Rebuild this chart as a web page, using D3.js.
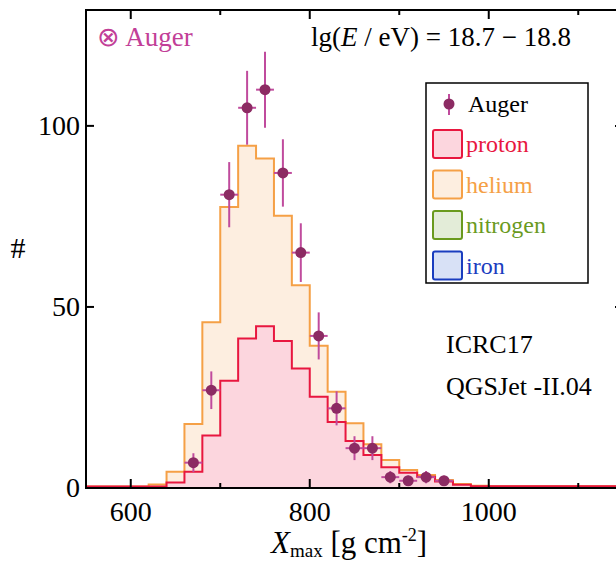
<!DOCTYPE html>
<html>
<head>
<meta charset="utf-8">
<script src="https://cdn.jsdelivr.net/npm/d3@7"></script>
<style>
    body { margin: 0; background: #fff; }
    text { font-family: "Liberation Serif", "Times New Roman", serif; }
</style>
</head>
<body>
<div id="chart"></div>
<script>
// Histogram bins (lower edges, g/cm^2), 20 wide
const binLow = [540, 560, 580, 600, 620, 640, 660, 680, 700, 720, 740, 760, 780, 800, 820,
    840, 860, 880, 900, 920, 940, 960, 980, 1000, 1020, 1040, 1060, 1080, 1100, 1120, 1140];
const binWidth = 20;

// Fitted composition (counts per bin)
const proton = [0.4, 0.4, 0.4, 0.4, 0.4, 1.5, 4.5, 14.5, 29.6, 41.3, 44.7, 40.6, 33, 25.2, 18.2,
    13, 9.1, 5.7, 4.2, 3.1, 1.8, 0.9, 0.5, 0.5, 0.5, 0.5, 0.5, 0.5, 0.5, 0.5, 0.5];
const helium = [0, 0, 0, 0, 0.6, 3, 13.2, 31.3, 48, 53.2, 46.3, 34.6, 23, 14.1, 8.4,
    4.9, 3, 2, 0.8, 0.5, 0.4, 0.2, 0.1, 0, 0, 0, 0, 0, 0, 0, 0];
const nitrogen = binLow.map(() => 0);
const iron = binLow.map(() => 0);

// Auger data points
const augerX = [670, 690, 710, 730, 750, 770, 790, 810, 830, 850, 870, 890, 910, 930, 950];
const augerCounts = [7, 27, 81, 105, 110, 87, 65, 42, 22, 11, 11, 3, 2, 3, 2];
const augerErr = [2.6, 5.2, 9, 10.2, 10.5, 9.3, 8.1, 6.5, 4.7, 3.3, 3.3, 1.7, 1.4, 1.7, 1.4];

const xTicks = [600, 800, 1000];
const xMinorTicks = [700, 900, 1100];
const yTicks = [0, 50, 100];

const components = [
    { name: "proton", values: proton, stroke: "#e8173f", fill: "#fcd6de" },
    { name: "helium", values: helium, stroke: "#f5a046", fill: "#fdeee0" },
    { name: "nitrogen", values: nitrogen, stroke: "#6a9a1e", fill: "#e3ecd8" },
    { name: "iron", values: iron, stroke: "#1a3dbf", fill: "#d8e1f6" }
];

const margin = { top: 10, left: 86 };
const width = 537;
const height = 478;

const svg = d3.select("#chart").append("svg")
    .attr("width", 616)
    .attr("height", 561);

const g = svg.append("g")
    .attr("transform", `translate(${margin.left},${margin.top})`);

const x = d3.scaleLinear().domain([550, 1150]).range([0, width]);
const y = d3.scaleLinear().domain([0, 132]).range([height, 0]);

g.append("clipPath").attr("id", "clip")
    .append("rect").attr("width", width).attr("height", height);

// Stack the components, draw from the outermost total down to proton
const table = binLow.map((lo, i) => {
    const row = { lo: lo };
    components.forEach(c => row[c.name] = c.values[i]);
    return row;
});
const stacked = d3.stack().keys(components.map(c => c.name))(table);

const line = d3.line().x(d => x(d[0])).y(d => y(d[1]));
const area = d3.area().x(d => x(d[0])).y0(y(0)).y1(d => y(d[1]));

const hist = g.append("g").attr("clip-path", "url(#clip)");

stacked.slice().reverse().forEach(layer => {
    const comp = components.find(c => c.name === layer.key);
    if (d3.sum(comp.values) === 0) return;
    const pts = [];
    layer.forEach(d => {
        pts.push([d.data.lo, d[1]]);
        pts.push([d.data.lo + binWidth, d[1]]);
    });
    hist.append("path")
        .attr("d", area(pts))
        .attr("fill", comp.fill);
    hist.append("path")
        .attr("d", line(pts))
        .attr("fill", "none")
        .attr("stroke", comp.stroke)
        .attr("stroke-width", 2);
});

// Auger points with error bars
const auger = g.append("g");
augerX.forEach((xv, i) => {
    auger.append("line")
        .attr("x1", x(xv)).attr("x2", x(xv))
        .attr("y1", y(augerCounts[i] - augerErr[i]))
        .attr("y2", y(augerCounts[i] + augerErr[i]))
        .attr("stroke", "#c04b9d").attr("stroke-width", 2);
    auger.append("line")
        .attr("x1", x(xv - binWidth / 2)).attr("x2", x(xv + binWidth / 2))
        .attr("y1", y(augerCounts[i])).attr("y2", y(augerCounts[i]))
        .attr("stroke", "#c04b9d").attr("stroke-width", 2);
    auger.append("circle")
        .attr("cx", x(xv)).attr("cy", y(augerCounts[i]))
        .attr("r", 5.5).attr("fill", "#8c2b63");
});

// Axes and frame
const axes = g.append("g").attr("stroke", "#000");
axes.append("rect")
    .attr("width", width).attr("height", height)
    .attr("fill", "none").attr("stroke-width", 2);

xTicks.forEach(t => {
    axes.append("line").attr("x1", x(t)).attr("x2", x(t)).attr("y1", height).attr("y2", height - 9).attr("stroke-width", 2);
    axes.append("line").attr("x1", x(t)).attr("x2", x(t)).attr("y1", 0).attr("y2", 9).attr("stroke-width", 2);
});
xMinorTicks.forEach(t => {
    axes.append("line").attr("x1", x(t)).attr("x2", x(t)).attr("y1", height).attr("y2", height - 5).attr("stroke-width", 2);
    axes.append("line").attr("x1", x(t)).attr("x2", x(t)).attr("y1", 0).attr("y2", 5).attr("stroke-width", 2);
});
yTicks.forEach(t => {
    axes.append("line").attr("x1", 0).attr("x2", 8).attr("y1", y(t)).attr("y2", y(t)).attr("stroke-width", 2);
    axes.append("line").attr("x1", width).attr("x2", width - 8).attr("y1", y(t)).attr("y2", y(t)).attr("stroke-width", 2);
});

g.selectAll(".xlab").data(xTicks).enter().append("text")
    .attr("x", d => x(d)).attr("y", height + 33)
    .attr("text-anchor", "middle").attr("font-size", "28px")
    .text(d => d);

g.selectAll(".ylab").data(yTicks).enter().append("text")
    .attr("x", -6).attr("y", d => y(d) + 9)
    .attr("text-anchor", "end").attr("font-size", "28px")
    .text(d => d);

// Axis titles
svg.append("text")
    .attr("x", 18).attr("y", 258)
    .attr("text-anchor", "middle").attr("font-size", "30px")
    .text("#");

const xt = svg.append("text")
    .attr("x", 271).attr("y", 553)
    .attr("font-size", "31px");
xt.append("tspan").attr("font-style", "italic").text("X");
xt.append("tspan").attr("font-size", "19px").attr("dy", 4).text("max");
xt.append("tspan").attr("dy", -4).text(" [g cm");
xt.append("tspan").attr("font-size", "18px").attr("dy", -12).text("-2");
xt.append("tspan").attr("dy", 12).text("]");

// Top annotations
svg.append("text")
    .attr("x", 97).attr("y", 46)
    .attr("font-size", "27px").attr("fill", "#c23f98")
    .text("⊗ Auger");

const en = svg.append("text")
    .attr("x", 311).attr("y", 46)
    .attr("font-size", "27px");
en.append("tspan").text("lg(");
en.append("tspan").attr("font-style", "italic").text("E");
en.append("tspan").text(" / eV) = 18.7 − 18.8");

svg.append("text").attr("x", 446).attr("y", 353)
    .attr("font-size", "26px").text("ICRC17");
svg.append("text").attr("x", 446).attr("y", 395)
    .attr("font-size", "26px").text("QGSJet -II.04");

// Legend
const legend = svg.append("g");
legend.append("rect")
    .attr("x", 426).attr("y", 83).attr("width", 162).attr("height", 200)
    .attr("fill", "#fff").attr("stroke", "#000").attr("stroke-width", 1.5);

legend.append("line")
    .attr("x1", 449).attr("x2", 449).attr("y1", 94).attr("y2", 115)
    .attr("stroke", "#c04b9d").attr("stroke-width", 2);
legend.append("circle").attr("cx", 449).attr("cy", 104).attr("r", 5.5).attr("fill", "#8c2b63");
legend.append("text").attr("x", 468).attr("y", 112)
    .attr("font-size", "24px").text("Auger");

components.forEach((c, i) => {
    const top = 130 + i * 40.5;
    legend.append("rect")
        .attr("x", 433).attr("y", top).attr("width", 29).attr("height", 28)
        .attr("rx", 2)
        .attr("fill", c.fill).attr("stroke", c.stroke).attr("stroke-width", 2);
    legend.append("text")
        .attr("x", 466).attr("y", top + 22)
        .attr("font-size", "24px").attr("fill", c.stroke)
        .text(c.name);
});
</script>
</body>
</html>
